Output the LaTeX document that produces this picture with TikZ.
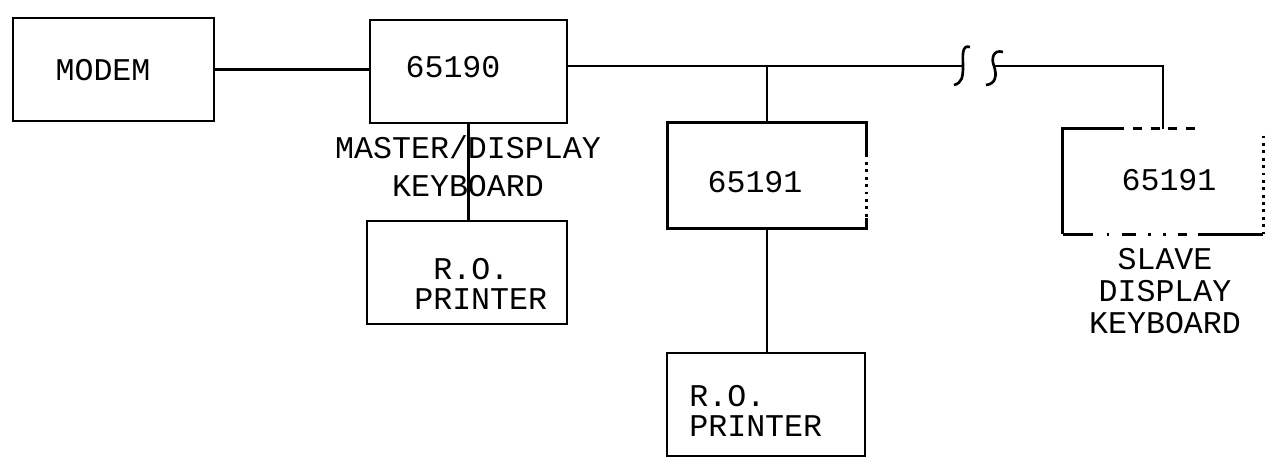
\documentclass[tikz,border=0pt]{standalone}
\usepackage{fontspec}
\newfontfamily\diamono{Liberation Mono}
\begin{document}
\begin{tikzpicture}[x=0.02cm,y=-0.02cm,line width=1.5pt,
  box/.style={draw,inner sep=0pt,minimum width=#1*0.02cm,minimum height=103*0.02cm},
  openbox/.style={inner sep=0pt,minimum width=#1*0.02cm,minimum height=103*0.02cm},
  txt/.style={font=\diamono\fontsize{18pt}{17pt}\selectfont,inner sep=0pt,align=center},
  dotline/.style={line width=1.8pt,dash pattern=on 1.6pt off 2.6pt},
  dashline/.style={dash pattern=on 5pt off 5pt}]
\useasboundingbox (0,0) rectangle (1274,466);

% boxes
\node[box=201] (modem) at (113.5,69.5) {};
\node[box=197] (m65190) at (468.5,71.5) {};
\node[box=200] (printer1) at (467,272.5) {};
\node[openbox=196] (s65191) at (767,175.5) {};
\node[box=198] (printer2) at (766,404.5) {};
\node[openbox=198] (slave) at (1163,181.5) {};

% texts
\node[txt] (tmodem) at (103,70) {MODEM};
\node[txt] (t65190) at (453,67) {65190};
\node[txt,font=\diamono\fontsize{18pt}{21.5pt}\selectfont] (tmaster) at (468,166) {MASTER/DISPLAY\\KEYBOARD};
\node[txt,align=left,anchor=west] (tprinter1) at (413,284) {\hphantom{P}R.O.\\PRINTER};
\node[txt] (t65191) at (755,182) {65191};
\node[txt,align=left,anchor=west] (tprinter2) at (688,411) {R.O.\\PRINTER};
\node[txt] (tslave65191) at (1169,180) {65191};
\node[txt,font=\diamono\fontsize{18pt}{18.4pt}\selectfont] (tslave) at (1165,291) {SLAVE\\DISPLAY\\KEYBOARD};

% middle 65191 box outline (right edge partly dotted)
\draw (s65191.north east) ++(0,32) -- (s65191.north east) -- (s65191.north west)
      -- (s65191.south west) -- (s65191.south east) -- ++(0,-10);
\draw[dotline] (s65191.north east) ++(0,32) -- ++(0,63);

% slave box outline (broken edges)
\draw (slave.south west) -- (slave.north west) -- ++(53,0);
\draw[dashline] (slave.north west) ++(53,0) -- ++(81,0);
\draw[dotline] (slave.north east) ++(0,7) -- (slave.south east);
\draw (slave.south west) -- ++(30,0);
\draw[dash pattern=on 1.5pt off 7pt on 8pt off 7pt on 1.5pt off 7pt] (slave.south west) ++(44,0) -- ++(80,0);
\draw (slave.south east) -- ++(-65,0);

% connectors
\coordinate (brkL) at (963,66);
\coordinate (brkR) at (994,66);
\draw (modem.east) -- (modem.east -| m65190.west);
\draw (m65190.east |- brkL) -- (brkL);
\draw (s65191.north) -- (s65191.north |- brkL);
\draw (brkR) -| (slave.north);
\draw (m65190.south) -- (m65190.south |- printer1.north);
\draw (s65191.south) -- (s65191.south |- printer2.north);

% break symbol
\draw (970,47) .. controls (961,44) and (963,58) .. (963,66) .. controls (963,77) and (962,83) .. (954,85);
\draw (1003,52) .. controls (993,49) and (991,59) .. (994,66) .. controls (997,75) and (996,84) .. (986,85);
\end{tikzpicture}
\end{document}
